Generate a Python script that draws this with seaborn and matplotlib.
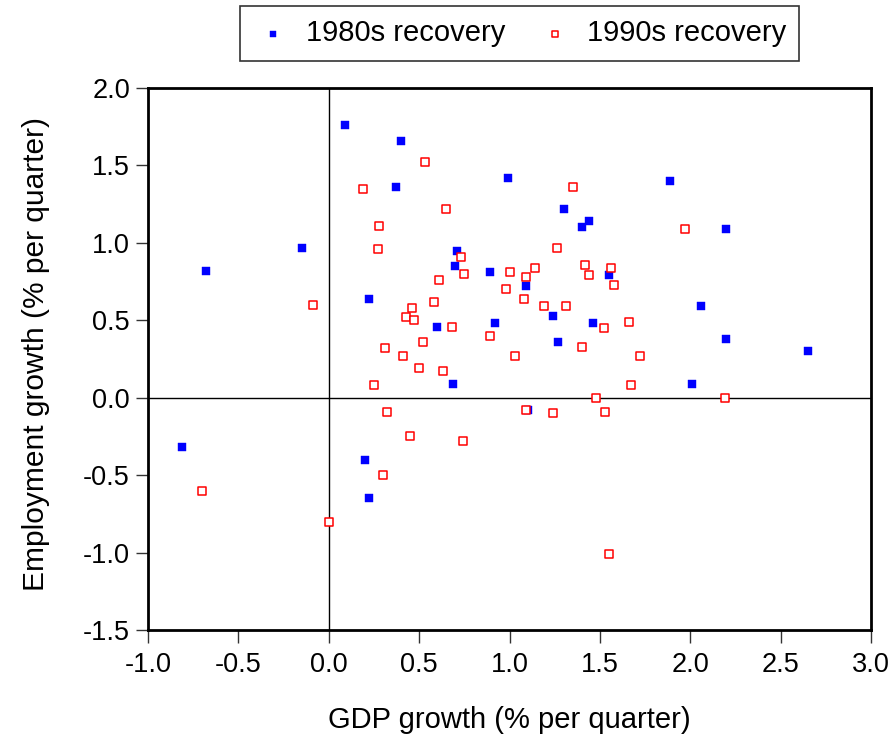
import matplotlib
matplotlib.use("Agg")
import matplotlib.pyplot as plt
import pandas as pd
import seaborn as sns

# 1980s recovery (GDP growth, employment growth), % per quarter
gdp_80s = [0.09, 0.40, 0.37, 0.99, -0.15, -0.68, 0.71, 0.70, 0.89, 0.22, 0.60, 0.92,
           0.69, 1.89, 1.30, 1.44, 1.40, 2.20, 1.55, 1.09, 2.06, 1.24, 1.46, 1.27,
           2.20, 2.65, 2.01, 1.10, -0.81, 0.20, 0.22]
emp_80s = [1.76, 1.66, 1.36, 1.42, 0.97, 0.82, 0.95, 0.85, 0.81, 0.64, 0.46, 0.48,
           0.09, 1.40, 1.22, 1.14, 1.10, 1.09, 0.79, 0.72, 0.59, 0.53, 0.48, 0.36,
           0.38, 0.30, 0.09, -0.08, -0.32, -0.40, -0.65]

# 1990s recovery
gdp_90s = [0.53, 0.19, 0.65, 0.28, 0.27, 0.73, 0.75, 0.61, 1.00, 0.98, -0.09, 0.58,
           0.46, 0.43, 0.47, 0.68, 0.89, 0.52, 0.31, 0.41, 0.50, 0.63, 0.25,
           1.35, 1.97, 1.26, 1.14, 1.42, 1.56, 1.44, 1.09, 1.58, 1.08, 1.19, 1.31,
           1.66, 1.52, 1.40, 1.03, 1.72, 1.67, 1.48, 2.19,
           1.09, 1.24, 1.53, 1.55,
           0.32, 0.45, 0.74, 0.30, -0.70, 0.00]
emp_90s = [1.52, 1.35, 1.22, 1.11, 0.96, 0.91, 0.80, 0.76, 0.81, 0.70, 0.60, 0.62,
           0.58, 0.52, 0.50, 0.46, 0.40, 0.36, 0.32, 0.27, 0.19, 0.17, 0.08,
           1.36, 1.09, 0.97, 0.84, 0.86, 0.84, 0.79, 0.78, 0.73, 0.64, 0.59, 0.59,
           0.49, 0.45, 0.33, 0.27, 0.27, 0.08, 0.00, 0.00,
           -0.08, -0.10, -0.09, -1.01,
           -0.09, -0.25, -0.28, -0.50, -0.60, -0.80]

x_ticks = [-1.0, -0.5, 0.0, 0.5, 1.0, 1.5, 2.0, 2.5, 3.0]
y_ticks = [-1.5, -1.0, -0.5, 0.0, 0.5, 1.0, 1.5, 2.0]

sns.set_theme(style="white")
plt.rcParams["font.family"] = ["Liberation Sans", "DejaVu Sans"]
plt.rcParams["text.color"] = "black"
plt.rcParams["axes.labelcolor"] = "black"

df80 = pd.DataFrame({"gdp": gdp_80s, "emp": emp_80s})
df90 = pd.DataFrame({"gdp": gdp_90s, "emp": emp_90s})

fig = plt.figure(figsize=(8.95, 7.36), dpi=100)
ax = fig.add_axes([0.1654, 0.144, 0.8078, 0.7364])

ax.axvline(0, color="black", lw=1.0, zorder=1)
ax.axhline(0, color="black", lw=1.0, zorder=1)

sns.scatterplot(data=df80, x="gdp", y="emp", ax=ax, marker="s", s=34,
                color="#0000ff", edgecolor="#0000ff", linewidth=0.3,
                label="1980s recovery", zorder=3)
sns.scatterplot(data=df90, x="gdp", y="emp", ax=ax, marker="s", s=26,
                color="red", facecolor="white", edgecolor="red", linewidth=1.1,
                label="1990s recovery", zorder=4)

ax.set_xlim(-1.0, 3.0)
ax.set_ylim(-1.5, 2.0)
ax.set_xticks(x_ticks)
ax.set_yticks(y_ticks)
ax.set_xticklabels([f"{t:.1f}" for t in x_ticks])
ax.set_yticklabels([f"{t:.1f}" for t in y_ticks])
ax.tick_params(axis="both", direction="out", length=9, width=1.0, color="#333333",
               labelsize=19.5, labelcolor="black")
ax.tick_params(axis="x", pad=7)
ax.tick_params(axis="y", pad=4)
ax.tick_params(bottom=True, left=True, top=False, right=False)

for sp in ax.spines.values():
    sp.set_color("black")
    sp.set_linewidth(2.0)

ax.set_xlabel("GDP growth (% per quarter)", fontsize=21, labelpad=20, color="black")
ax.set_ylabel("Employment growth (% per quarter)", fontsize=21.5, labelpad=24,
              color="black")
ax.yaxis.label.set_y(0.51)

ax.get_legend().remove()
h, l = ax.get_legend_handles_labels()
leg = fig.legend(h, l, loc="center", bbox_to_anchor=(0.5804, 0.9545), ncol=2,
                 fontsize=21, frameon=True, fancybox=False, edgecolor="black",
                 markerscale=0.8, handletextpad=0.4, columnspacing=1.0,
                 borderpad=0.45, handlelength=1.4, labelcolor="black")
leg.get_frame().set_linewidth(1.2)

fig.savefig("out.png", dpi=100)
